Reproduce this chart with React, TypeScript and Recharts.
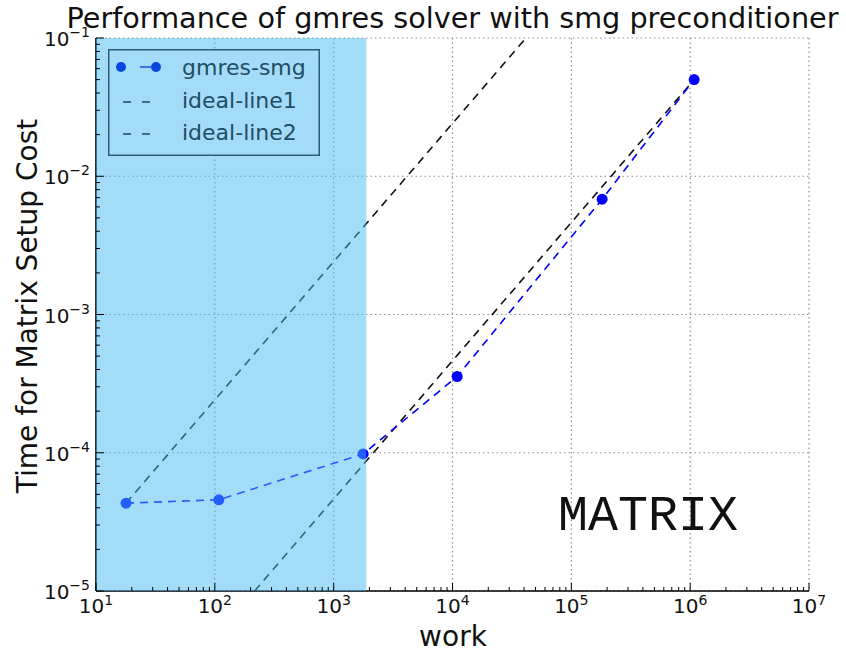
import React from 'react';
import {
  ComposedChart,
  Line,
  XAxis,
  YAxis,
  CartesianGrid,
  ReferenceArea,
  Legend,
  Customized,
} from 'recharts';

// Measured matrix setup cost for the gmres solver with smg preconditioner
const workValues = [17.9, 108, 1771, 10940, 181600, 1080000];
const setupTimes = [4.32e-5, 4.57e-5, 9.8e-5, 3.56e-4, 6.82e-3, 0.05];

// Ideal (linear scaling) reference lines, given by their end points
const ideal1Work = [17.9, 41500];
const ideal1Time = [4.32e-5, 0.1];
const ideal2Work = [216, 1080000];
const ideal2Time = [1e-5, 0.05];

// Highlighted small-problem range on the work axis
const shadedWork = [10, 1880];

const xMajorTicks = [10, 100, 1e3, 1e4, 1e5, 1e6, 1e7];
const yMajorTicks = [1e-5, 1e-4, 1e-3, 1e-2, 1e-1];
const xDomain: [number, number] = [10, 1e7];
const yDomain: [number, number] = [1e-5, 1e-1];

const seriesNames = ['gmres-smg', 'ideal-line1', 'ideal-line2'];

const withMinors = (majors: number[]) => {
  const out: number[] = [];
  majors.forEach((m, i) => {
    out.push(m);
    if (i < majors.length - 1) {
      for (let k = 2; k <= 9; k++) out.push(Number((m * k).toPrecision(6)));
    }
  });
  return out;
};
const xAllTicks = withMinors(xMajorTicks);
const yAllTicks = withMinors(yMajorTicks);

const gmresData = workValues.map((w, i) => ({ work: w, time: setupTimes[i] }));
const ideal1Data = ideal1Work.map((w, i) => ({ work: w, time: ideal1Time[i] }));
const ideal2Data = ideal2Work.map((w, i) => ({ work: w, time: ideal2Time[i] }));

const FONT = '"DejaVu Sans", sans-serif';
const BLUE = '#0000ff';
const DASH = '8 6';

const isMajor = (v: number) => Math.abs(Math.log10(v) - Math.round(Math.log10(v))) < 1e-6;
const expText = (v: number) => {
  const e = Math.round(Math.log10(v));
  return e < 0 ? '\u2212' + String(-e) : String(e);
};

const BottomTick = (props: any) => {
  const { x, y, payload } = props;
  const major = isMajor(payload.value);
  return (
    <g>
      <line x1={x} x2={x} y1={y} y2={y - (major ? 8 : 4)} stroke="#000" strokeWidth={1} />
      {major && (
        <text x={x} y={y + 22} textAnchor="middle" fontFamily={FONT} fontSize={20} fill="#111">
          10
          <tspan dy={-8} fontSize={14}>
            {expText(payload.value)}
          </tspan>
        </text>
      )}
    </g>
  );
};

const TopTick = (props: any) => {
  const { x, y, payload } = props;
  const major = isMajor(payload.value);
  return <line x1={x} x2={x} y1={y} y2={y + (major ? 8 : 4)} stroke="#000" strokeWidth={1} />;
};

const LeftTick = (props: any) => {
  const { x, y, payload } = props;
  const major = isMajor(payload.value);
  return (
    <g>
      <line x1={x} x2={x + (major ? 8 : 4)} y1={y} y2={y} stroke="#000" strokeWidth={1} />
      {major && (
        <text x={x - 6} y={y + 8} textAnchor="end" fontFamily={FONT} fontSize={20} fill="#111">
          10
          <tspan dy={-9} fontSize={14}>
            {expText(payload.value)}
          </tspan>
        </text>
      )}
    </g>
  );
};

const RightTick = (props: any) => {
  const { x, y, payload } = props;
  const major = isMajor(payload.value);
  return <line x1={x} x2={x - (major ? 8 : 4)} y1={y} y2={y} stroke="#000" strokeWidth={1} />;
};

const LegendBox = () => (
  <div style={{ width: 212, height: 107 }}>
    <svg width={212} height={107} style={{ display: 'block' }}>
      <rect x={0.75} y={0.75} width={210.5} height={105.5} fill="#a3dcf9" stroke="#2b5d74" strokeWidth={1.5} />
      {/* gmres-smg: dashed line with markers */}
      <line x1={13} x2={48} y1={18} y2={18} stroke="#1c4fd8" strokeWidth={1.6} strokeDasharray="0 19 11 10" />
      <circle cx={13} cy={18} r={5} fill="#0a45e0" />
      <circle cx={48} cy={18} r={5} fill="#0a45e0" />
      {/* ideal lines */}
      <line x1={15} x2={42} y1={53} y2={53} stroke="#23485a" strokeWidth={1.6} strokeDasharray="8 11" />
      <line x1={15} x2={42} y1={85} y2={85} stroke="#23485a" strokeWidth={1.6} strokeDasharray="8 11" />
      {seriesNames.map((name, i) => (
        <text key={name} x={74} y={26 + i * 32.5} fontFamily={FONT} fontSize={22} fill="#1f4d63">
          {name}
        </text>
      ))}
    </svg>
  </div>
);

const Annotations = () => (
  <g>
    <text x={452.5} y={28} textAnchor="middle" fontFamily={FONT} fontSize={28.7} fill="#111">
      Performance of gmres solver with smg preconditioner
    </text>
    <text x={453} y={646} textAnchor="middle" fontFamily={FONT} fontSize={28} fill="#111">
      work
    </text>
    <text
      x={37}
      y={306}
      textAnchor="middle"
      fontFamily={FONT}
      fontSize={28}
      fill="#111"
      transform="rotate(-90 37 306)"
    >
      Time for Matrix Setup Cost
    </text>
    <text x={558} y={530} fontFamily={'"Liberation Mono", "Courier New", monospace'} fontSize={50} fill="#111">
      MATRIX
    </text>
  </g>
);

export default function App() {
  return (
    <div style={{ position: 'absolute', left: 0, top: 0, width: 846, height: 653, background: '#fff' }}>
      <ComposedChart width={846} height={653} margin={{ top: 38, right: 37, bottom: 0, left: 0 }}>
        <CartesianGrid
          xAxisId="x"
          yAxisId="y"
          verticalValues={xMajorTicks}
          horizontalValues={yMajorTicks}
          stroke="#8f8f8f"
          strokeWidth={1.2}
          strokeDasharray="1.5 3"
        />
        <XAxis
          xAxisId="x"
          dataKey="work"
          type="number"
          scale="log"
          domain={xDomain}
          allowDataOverflow
          ticks={xAllTicks}
          interval={0}
          height={62}
          tickSize={0}
          tickMargin={0}
          tickLine={false}
          axisLine={{ stroke: '#000', strokeWidth: 1.6 }}
          tick={<BottomTick />}
        />
        <XAxis
          xAxisId="top"
          orientation="top"
          dataKey="work"
          type="number"
          scale="log"
          domain={xDomain}
          allowDataOverflow
          ticks={xAllTicks}
          interval={0}
          height={0}
          tickSize={0}
          tickMargin={0}
          tickLine={false}
          axisLine={{ stroke: '#000', strokeWidth: 1.6 }}
          tick={<TopTick />}
        />
        <YAxis
          yAxisId="y"
          type="number"
          scale="log"
          domain={yDomain}
          allowDataOverflow
          ticks={yAllTicks}
          interval={0}
          width={96}
          tickSize={0}
          tickMargin={0}
          tickLine={false}
          axisLine={{ stroke: '#000', strokeWidth: 1.6 }}
          tick={<LeftTick />}
        />
        <YAxis
          yAxisId="right"
          orientation="right"
          type="number"
          scale="log"
          domain={yDomain}
          allowDataOverflow
          ticks={yAllTicks}
          interval={0}
          width={0}
          tickSize={0}
          tickMargin={0}
          tickLine={false}
          axisLine={{ stroke: '#000', strokeWidth: 1.6 }}
          tick={<RightTick />}
        />
        <Line
          xAxisId="x"
          yAxisId="y"
          data={ideal1Data}
          dataKey="time"
          name={seriesNames[1]}
          stroke="#111"
          strokeWidth={1.6}
          strokeDasharray={DASH}
          dot={false}
          isAnimationActive={false}
        />
        <Line
          xAxisId="x"
          yAxisId="y"
          data={ideal2Data}
          dataKey="time"
          name={seriesNames[2]}
          stroke="#111"
          strokeWidth={1.6}
          strokeDasharray={DASH}
          dot={false}
          isAnimationActive={false}
        />
        <Line
          xAxisId="x"
          yAxisId="y"
          data={gmresData}
          dataKey="time"
          name={seriesNames[0]}
          stroke={BLUE}
          strokeWidth={1.6}
          strokeDasharray={DASH}
          dot={{ r: 5.5, fill: BLUE, stroke: BLUE, strokeWidth: 0, strokeDasharray: '' }}
          isAnimationActive={false}
        />
        <ReferenceArea
          xAxisId="x"
          yAxisId="y"
          x1={shadedWork[0]}
          x2={shadedWork[1]}
          y1={yDomain[0]}
          y2={yDomain[1]}
          fill="#47b9f3"
          fillOpacity={0.5}
          stroke="none"
          zIndex={1500}
        />
        <Legend
          layout="horizontal"
          align="center"
          verticalAlign="middle"
          content={<LegendBox />}
          wrapperStyle={{ left: 108, top: 49, width: 212, height: 107 }}
        />
        <Customized component={<Annotations />} />
      </ComposedChart>
    </div>
  );
}
